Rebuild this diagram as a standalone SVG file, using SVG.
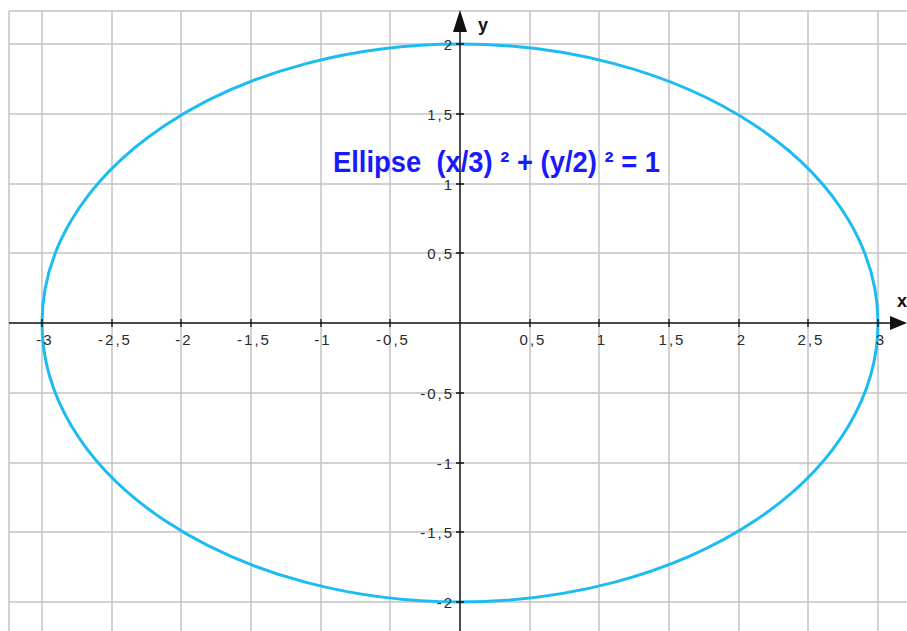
<svg xmlns="http://www.w3.org/2000/svg" width="907" height="631" viewBox="0 0 907 631">
<style>
.grid{stroke:#c4c4c4;stroke-width:1.5;fill:none}
.axis{stroke:#111;stroke-width:1.5;fill:none}
.tick{stroke:#111;stroke-width:1.3}
.lbl{font-family:"Liberation Sans",Arial,sans-serif;font-size:15px;fill:#2a2a2a;letter-spacing:2px}
.xl{text-anchor:middle}
.yl{text-anchor:end}
</style>
<rect width="907" height="631" fill="#fff"/>
<g id="grid" class="grid">
<path d="M9 11H907M9 11V631"/>
<path d="M42 11V631M112 11V631M181 11V631M251 11V631M321 11V631M390 11V631M530 11V631M599 11V631M669 11V631M739 11V631M808 11V631M878 11V631"/>
<path d="M9 44H907M9 114H907M9 184H907M9 253H907M9 393H907M9 463H907M9 532H907M9 602H907"/>
</g>
<g id="ellipse">
<ellipse cx="460" cy="323" rx="418" ry="279" fill="none" stroke="#1cbcf2" stroke-width="3"/>
</g>
<g id="axes">
<path class="axis" d="M9 323H892M460 631V30"/>
<polygon points="907,323 890,316 890,330" fill="#111"/>
<polygon points="460,10 453,32 467,32" fill="#111"/>
<path class="tick" d="M42 319V327M112 319V327M181 319V327M251 319V327M321 319V327M390 319V327M530 319V327M599 319V327M669 319V327M739 319V327M808 319V327M878 319V327"/>
<path class="tick" d="M456 44H464M456 114H464M456 184H464M456 253H464M456 393H464M456 463H464M456 532H464M456 602H464"/>
<text x="478" y="31" font-family="Liberation Sans,Arial,sans-serif" font-size="18" font-weight="bold" fill="#111">y</text>
<text x="897" y="307" font-family="Liberation Sans,Arial,sans-serif" font-size="18" font-weight="bold" fill="#111">x</text>
</g>
<g id="xlabels" class="lbl xl">
<text x="45" y="345">-3</text>
<text x="115" y="345">-2,5</text>
<text x="184" y="345">-2</text>
<text x="254" y="345">-1,5</text>
<text x="323" y="345">-1</text>
<text x="393" y="345">-0,5</text>
<text x="533" y="345">0,5</text>
<text x="602" y="345">1</text>
<text x="672" y="345">1,5</text>
<text x="742" y="345">2</text>
<text x="811" y="345">2,5</text>
<text x="881" y="345">3</text>
</g>
<g id="ylabels" class="lbl yl">
<text x="454" y="50">2</text>
<text x="454" y="120">1,5</text>
<text x="454" y="190">1</text>
<text x="454" y="259">0,5</text>
<text x="454" y="399">-0,5</text>
<text x="454" y="469">-1</text>
<text x="454" y="538">-1,5</text>
<text x="454" y="608">-2</text>
</g>
<g id="title">
<text x="333" y="172" font-family="Liberation Sans,Arial,sans-serif" font-size="29" font-weight="bold" fill="#1a1aff" textLength="327" lengthAdjust="spacingAndGlyphs" xml:space="preserve">Ellipse  (x/3) ² + (y/2) ² = 1</text>
</g>
</svg>
